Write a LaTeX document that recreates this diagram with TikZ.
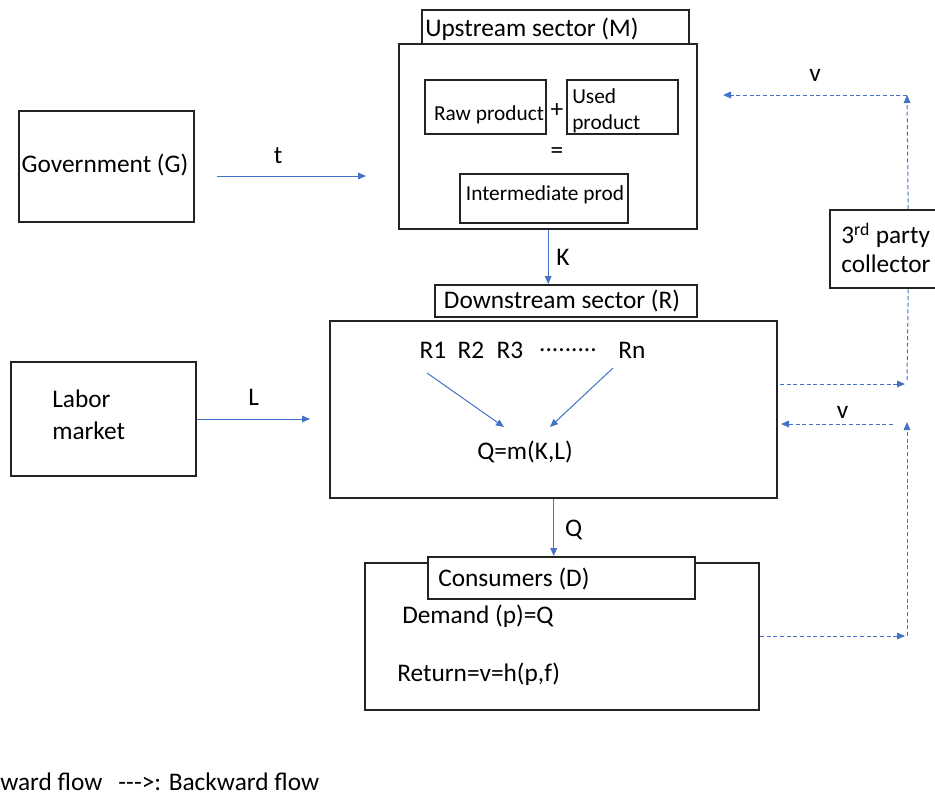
\documentclass[tikz,border=0pt]{standalone}
\usepackage{fontspec}
\setmainfont{Carlito}
\usetikzlibrary{arrows.meta}
\definecolor{flowblue}{RGB}{68,114,196}
\definecolor{boxgray}{RGB}{35,35,35}
\tikzset{
  box/.style 2 args={draw=boxgray, line width=1.8, fill=white, inner sep=0pt,
    anchor=north west, minimum width={#1*0.75pt}, minimum height={#2*0.75pt}},
  bigtxt/.style={inner sep=0pt, font=\fontsize{19}{22}\selectfont},
  smalltxt/.style={inner sep=0pt, font=\fontsize{16}{19.5}\selectfont},
  fwd/.style={draw=flowblue, line width=0.75, -{Triangle[length=6pt,width=5pt]}},
  bwd/.style={draw=flowblue, line width=0.75, dash pattern=on 3pt off 2pt, -{Triangle[length=6pt,width=5pt]}},
  bwdline/.style={draw=flowblue, line width=0.75, dash pattern=on 3pt off 2pt},
}
\begin{document}
\begin{tikzpicture}[x=0.75pt,y=0.75pt,yscale=-1]
\useasboundingbox (0,0) rectangle (935,797);

%Shape: Rectangle [upstream sector]
\node[box={298}{185}] (up) at (398,43) {};
\node[box={267}{34}] (upT) at (421,9) {};
\node[bigtxt, anchor=west] (upL) at (425,29) {Upstream sector (M)};
\node[box={121}{54}] (raw) at (424,79) {};
\node[smalltxt] (rawL) at (489,115) {Raw product};
\node[bigtxt] (plus) at (557,111) {+};
\node[box={111}{54}] (used) at (566,79) {};
\node[smalltxt, anchor=west, align=left] (usedL) at (572,111) {Used\\product};
\node[bigtxt] (eq) at (557,153) {=};
\node[box={168}{49}] (inter) at (459,173) {};
\node[smalltxt] (interL) at (545,195) {Intermediate prod};

%Shape: Rectangle [government]
\node[box={175}{111}] (gov) at (18,110) {};
\node[bigtxt] (govL) at (105,165) {Government (G)};

%Shape: Rectangle [downstream sector]
\node[box={262}{32}] (dnT) at (434,284) {};
\node[bigtxt] (dnL) at (562,301) {Downstream sector (R)};
\node[box={447}{177}] (dn) at (329,320) {};
\node[bigtxt] (r1) at (433,350) {R1};
\node[bigtxt] (r2) at (471,350) {R2};
\node[bigtxt] (r3) at (510,350) {R3};
\node[bigtxt] (rdots) at (568,350) {.........};
\node[bigtxt] (rn) at (632,350) {Rn};
\node[bigtxt] (q) at (525,452) {Q=m(K,L)};

%Shape: Rectangle [labor market]
\node[box={185}{114}] (lab) at (10,361) {};
\node[bigtxt, anchor=west, align=left, font=\fontsize{19}{24}\selectfont] (labL) at (52,415) {Labor\\market};

%Shape: Rectangle [consumers]
\node[box={394}{147}] (con) at (364,562) {};
\node[box={267}{42}] (conT) at (427,556) {};
\node[bigtxt, anchor=west] (conL) at (438,579) {Consumers (D)};
\node[bigtxt, anchor=west] (dem) at (402,616) {Demand (p)=Q};
\node[bigtxt, anchor=west] (ret) at (397,674) {Return=v=h(p,f)};

%Shape: Rectangle [3rd party collector]
\node[box={156}{78}] (col) at (829,209) {};
\node[bigtxt, anchor=west, align=left] (colL) at (841,248) {3\textsuperscript{rd} party\\collector};

%Forward flows
\coordinate (tS) at (217,176);
\coordinate (tE) at (366,176);
\draw[fwd] (tS) -- (tE) node[bigtxt, pos=0.41, yshift=15pt] (tL) {t};
\draw[fwd] (up.south) -- (up.south |- dnT.north) node[bigtxt, midway, xshift=11pt] (kL) {K};
\coordinate (lE) at (310,419);
\draw[fwd] (lab.east |- lE) -- (lE) node[bigtxt, midway, yshift=16pt] (lL) {L};
\draw[fwd] (dn.south) -- (dn.south |- conT.north) node[bigtxt, midway, xshift=15pt, yshift=-2pt] (qL) {Q};
\coordinate (r1S) at (427,373);
\coordinate (rnS) at (613,368);
\coordinate (qNW) at (504,427);
\coordinate (qNE) at (550,427);
\draw[fwd] (r1S) -- (qNW);
\draw[fwd] (rnS) -- (qNE);

%Backward flows
\coordinate (vTop) at (907,95);
\coordinate (vTopL) at (723,95);
\draw[bwd] (col.north) -- (vTop);
\draw[bwd] (vTop) -- (vTopL) node[bigtxt, midway, yshift=15pt] (v1L) {v};
\coordinate (colB) at (907,381);
\draw[bwdline] (col.south) -- (colB);
\coordinate (dnOutS) at (780,384);
\coordinate (dnOutE) at (905,384);
\draw[bwd] (dnOutS) -- (dnOutE);
\coordinate (vMidS) at (893,424);
\coordinate (vMidE) at (781,424);
\draw[bwd] (vMidS) -- (vMidE) node[bigtxt, pos=0.45, yshift=9pt] (v2L) {v};
\coordinate (conOutS) at (760,636);
\coordinate (conOutE) at (905,636);
\coordinate (vLow) at (907,422);
\draw[bwd] (conOutS) -- (conOutE);
\draw[bwd] (907,636) -- (vLow);

%Legend
\node[bigtxt, anchor=west] (legend) at (0,782) {ward flow\hspace{12pt}-{}-{}->: Backward flow};

\end{tikzpicture}
\end{document}
